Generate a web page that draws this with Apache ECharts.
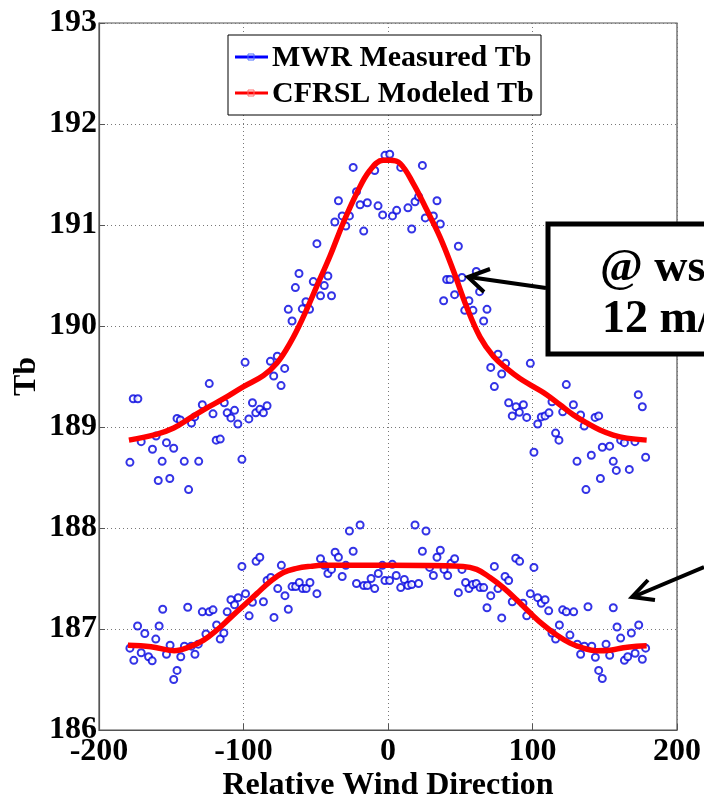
<!DOCTYPE html>
<html><head><meta charset="utf-8">
<script src="https://cdn.jsdelivr.net/npm/echarts@6/dist/echarts.min.js"></script>
<style>html,body{margin:0;padding:0;background:#fff}#c{width:704px;height:798px}</style>
</head><body><div id="c"></div><script>
// Measured Tb, upper group (ws = 12 m/s)
const upperX = [-178.6,-176.3,-173.1,-170.8,-163,-160.5,-159,-156.3,-153.3,-151,-148.3,-146,-143.7,-141,-138,-136,-133.8,-131,-128.5,-123.7,-121.1,-118.9,-116.1,-113.3,-111.3,-108.7,-106.2,-103.9,-101.1,-98.9,-96.3,-93.8,-91.5,-88.7,-86.2,-83.7,-81.4,-79.1,-76.6,-74.0,-71.5,-69,-66.4,-64.1,-61.6,-59.3,-56.8,-54.3,-51.7,-49.2,-46.7,-44.1,-41.6,-39.1,-36.8,-34.3,-31.7,-29.2,-26.7,-24.1,-21.8,-19.3,-16.8,-14.3,-9.2,-6.9,-3.7,-2.1,1.2,3.1,6,8.8,13.8,16.4,18.7,21.2,23.8,25.8,31.4,33.9,36.2,38.5,40.6,42.9,46.1,48.7,51.2,53.1,56,58.8,61.1,63.4,66.2,68.5,71.1,73.6,76.1,78.7,81.4,83.5,86,88.6,90.9,93.7,96,98.5,101,103.6,106.1,108.7,111.4,113.5,116,118.3,120.9,123.4,128.3,130.8,133.3,135.8,137,140.7,143.3,145.8,147,148.3,153.4,155.9,158,161,163.6,167,170.9,173.2,176,178.3];
const upperY = [188.65,189.28,189.28,188.855,188.78,188.91,188.47,188.66,188.845,188.49,188.79,189.085,189.07,188.66,188.38,189.04,189.10,188.66,189.22,189.43,189.13,188.87,188.88,189.24,189.14,189.09,189.165,189.03,188.68,189.64,189.08,189.24,189.14,189.175,189.14,189.21,189.65,189.505,189.70,189.41,189.58,190.165,190.05,190.38,190.52,190.17,190.24,190.165,190.44,190.815,190.30,190.40,190.495,190.30,191.03,191.24,191.09,190.99,191.09,191.57,191.33,191.20,190.94,191.22,191.54,191.19,191.10,191.69,191.70,191.09,191.145,191.57,191.17,190.96,191.23,191.28,191.59,191.07,191.09,191.24,191.01,190.25,190.46,190.46,190.31,190.79,190.48,190.155,190.25,190.155,190.54,190.34,190.05,190.165,189.59,189.40,189.72,189.525,189.63,189.24,189.11,189.20,189.145,189.22,189.095,189.63,188.75,189.03,189.10,189.11,189.14,189.25,188.94,188.87,189.15,189.42,189.22,188.66,189.12,189.01,188.38,188.72,189.095,189.11,188.49,188.80,188.81,188.66,188.57,188.87,188.845,188.58,188.855,189.32,189.20,188.70];
// Measured Tb, lower group
const lowerX = [-178.6,-175.9,-173.3,-170.8,-168.3,-165.7,-163.2,-160.7,-158.4,-155.9,-153.3,-150.8,-148.3,-146,-143.4,-140.9,-138.6,-136.1,-133.6,-131.3,-128.5,-126,-123.7,-121.1,-118.6,-116.1,-113.6,-111.3,-108.7,-106.2,-103.7,-101.1,-98.6,-96.1,-93.8,-91.3,-88.7,-86.2,-83.7,-81.1,-78.9,-76.3,-73.8,-71.3,-69,-66.4,-63.9,-61.4,-59.1,-56.6,-54,-49.2,-46.7,-44.1,-41.6,-39.1,-36.6,-34.3,-31.7,-29.2,-26.7,-24.1,-21.8,-19.3,-16.8,-14.3,-11.7,-9.2,-6.7,-3.9,-2.1,1.1,3,5.7,8.8,11.3,13.8,16.4,18.7,21.2,23.8,26.3,28.8,31.4,33.9,36.2,38.8,41.3,43.6,46.1,48.7,51.2,53.7,56,58.6,61.1,63.7,66.2,68.5,71.1,73.6,76.1,78.7,81,83.5,86,88.4,91.1,93.4,96,98.5,101,103.6,106.1,108.7,111.2,113.5,116,118.6,120.9,123.4,125.9,128.5,131,133.3,135.9,138.4,141,143.5,145.8,148.3,150.9,153.4,155.9,158.5,161,163.6,165.9,168.4,171,173.5,176,178.3];
const lowerY = [186.81,186.69,187.03,186.765,186.955,186.725,186.685,186.90,187.03,187.195,186.75,186.84,186.50,186.59,186.725,186.83,187.215,186.83,186.75,186.85,187.17,186.95,187.17,187.19,187.04,186.90,186.96,187.17,187.29,187.24,187.31,187.62,187.35,187.13,187.265,187.67,187.71,187.27,187.48,187.51,187.115,187.40,187.63,187.33,187.195,187.42,187.42,187.46,187.40,187.40,187.46,187.35,187.695,187.63,187.55,187.59,187.76,187.71,187.52,187.63,187.97,187.77,187.45,188.03,187.43,187.43,187.50,187.40,187.55,187.63,187.48,187.48,187.64,187.53,187.41,187.49,187.43,187.44,188.03,187.45,187.77,187.97,187.61,187.53,187.71,187.78,187.59,187.53,187.65,187.695,187.36,187.59,187.46,187.40,187.44,187.45,187.41,187.41,187.21,187.33,187.62,187.40,187.11,187.52,187.48,187.27,187.70,187.67,187.255,187.13,187.35,187.61,187.31,187.255,187.29,187.18,186.96,186.90,187.04,187.19,187.17,186.94,187.17,186.85,186.75,186.83,187.22,186.83,186.72,186.59,186.51,186.85,186.74,187.21,187.02,186.91,186.69,186.725,186.96,186.76,187.04,186.70,186.81];
// CFRSL modeled Tb
const modelUpperX = [-179.3,-159.8,-148.3,-136.8,-125.3,-113.8,-100,-86.2,-77,-67.8,-58.6,-49.4,-40.2,-31,-21.8,-12.6,-3.4,1.4,8.3,17.5,26.8,36,45.2,54.4,63.7,72.9,82.1,91.3,100.6,109.8,119,128.3,137.5,146.7,155.9,165.2,179];
const modelUpperY = [188.87,188.93,188.99,189.09,189.19,189.28,189.40,189.51,189.63,189.83,190.09,190.39,190.69,191.02,191.31,191.54,191.64,191.64,191.61,191.41,191.15,190.88,190.55,190.19,189.89,189.70,189.58,189.48,189.40,189.32,189.22,189.12,189.04,188.97,188.92,188.89,188.87];
const modelLowerX = [-180,-164,-148,-137,-127.6,-118.4,-109.2,-100,-90.8,-81.6,-72.4,-63.2,-54,-44.8,0,52,61.4,70.6,79.8,89,98.3,107.5,116.7,126,135.2,144.4,153.6,162.9,172.1,179];
const modelLowerY = [186.84,186.825,186.785,186.825,186.89,186.99,187.11,187.23,187.35,187.47,187.56,187.60,187.62,187.63,187.63,187.62,187.59,187.51,187.41,187.29,187.16,187.04,186.94,186.86,186.81,186.785,186.79,186.815,186.83,186.835];
const xTicks = [-200,-100,0,100,200];
const yTicks = [186,187,188,189,190,191,192,193];

const zip = (a,b)=>a.map((v,i)=>[v,b[i]]);
const FONT = '"Liberation Serif","Times New Roman",serif';
const chart = echarts.init(document.getElementById('c'), null, {renderer:'canvas'});
const scatterStyle = {type:'scatter', name:'MWR Measured Tb', symbol:'emptyCircle', symbolSize:7,
  itemStyle:{color:'#0000e0', borderColor:'#0000e0', borderWidth:1.4}, z:3};
const lineStyle = {type:'line', name:'CFRSL Modeled Tb', smooth:0.4, showSymbol:false,
  lineStyle:{color:'#ff0000', width:5.5}, z:4};
chart.setOption({
  animation:false,
  backgroundColor:'#fff',
  grid:{left:99, right:27, top:23, bottom:68, outerBoundsMode:'none', containLabel:false,
    show:true, borderColor:'#555', borderWidth:1.2, backgroundColor:'transparent'},
  xAxis:{type:'value', min:-200, max:200, interval:100,
    name:'Relative Wind Direction', nameLocation:'middle', nameGap:40, nameMoveOverlap:false,
    nameTextStyle:{fontFamily:FONT, fontWeight:'bold', fontSize:32, color:'#000'},
    axisLine:{show:true, onZero:false, lineStyle:{color:'#555', width:1.2}},
    axisTick:{show:true, inside:true, length:6, lineStyle:{color:'#555'}},
    axisLabel:{fontFamily:FONT, fontWeight:'bold', fontSize:32, color:'#000', margin:6,
      formatter:v=>xTicks.includes(v)?String(v):''},
    splitLine:{show:true, lineStyle:{type:[1,3], color:'#777', width:1}}},
  yAxis:{type:'value', min:186, max:193, interval:1,
    name:'Tb', nameLocation:'middle', nameGap:56, nameRotate:90, nameMoveOverlap:false,
    nameTextStyle:{fontFamily:FONT, fontWeight:'bold', fontSize:32, color:'#000'},
    axisLine:{show:true, onZero:false, lineStyle:{color:'#555', width:1.2}},
    axisTick:{show:true, inside:true, length:6, lineStyle:{color:'#555'}},
    axisLabel:{fontFamily:FONT, fontWeight:'bold', fontSize:32, color:'#000', margin:2,
      formatter:v=>yTicks.includes(v)?String(v):''},
    splitLine:{show:true, lineStyle:{type:[1,3], color:'#777', width:1}}},
  series:[
    Object.assign({}, scatterStyle, {data:zip(upperX, upperY)}),
    Object.assign({}, scatterStyle, {data:zip(lowerX, lowerY)}),
    Object.assign({}, lineStyle, {data:zip(modelUpperX, modelUpperY)}),
    Object.assign({}, lineStyle, {data:zip(modelLowerX, modelLowerY)})
  ],
  graphic:[
    // legend box
    {type:'rect', z:50, shape:{x:228, y:35, width:313, height:80}, style:{fill:'#fff', stroke:'#000', lineWidth:1}},
    {type:'line', z:51, shape:{x1:235, y1:57, x2:268, y2:57}, style:{stroke:'#0000ff', lineWidth:3}},
    {type:'rect', z:52, shape:{x:248, y:54, width:6, height:6}, style:{fill:'none', stroke:'#4a6cff', lineWidth:1}},
    {type:'text', z:51, x:272, y:58, style:{text:'MWR Measured Tb', font:'bold 30px '+FONT, fill:'#000', verticalAlign:'middle'}},
    {type:'line', z:51, shape:{x1:235, y1:93, x2:268, y2:93}, style:{stroke:'#ff0000', lineWidth:3}},
    {type:'rect', z:52, shape:{x:248, y:90, width:6, height:6}, style:{fill:'none', stroke:'#ff6a6a', lineWidth:1}},
    {type:'text', z:51, x:272, y:94, style:{text:'CFRSL Modeled Tb', font:'bold 30px '+FONT, fill:'#000', verticalAlign:'middle'}},
    // annotation box
    {type:'rect', z:60, shape:{x:548, y:224, width:200, height:130}, style:{fill:'#fff', stroke:'#000', lineWidth:5}},
    {type:'text', z:61, x:600, y:269, style:{text:'@ ws', font:'bold 46px '+FONT, fill:'#000', verticalAlign:'middle'}},
    {type:'text', z:61, x:602, y:320, style:{text:'12 m/s', font:'bold 46px '+FONT, fill:'#000', verticalAlign:'middle'}},
    // arrows
    {type:'polyline', z:61, shape:{points:[[546,288],[469,277]]}, style:{stroke:'#000', lineWidth:4, fill:'none'}},
    {type:'polyline', z:61, shape:{points:[[490,269],[468,277],[484,292]]}, style:{stroke:'#000', lineWidth:4, fill:'none', lineJoin:'miter'}},
    {type:'polyline', z:61, shape:{points:[[704,567],[633,597]]}, style:{stroke:'#000', lineWidth:4, fill:'none'}},
    {type:'polyline', z:61, shape:{points:[[648,580],[632,597],[655,600]]}, style:{stroke:'#000', lineWidth:4, fill:'none', lineJoin:'miter'}}
  ]
});
</script></body></html>
